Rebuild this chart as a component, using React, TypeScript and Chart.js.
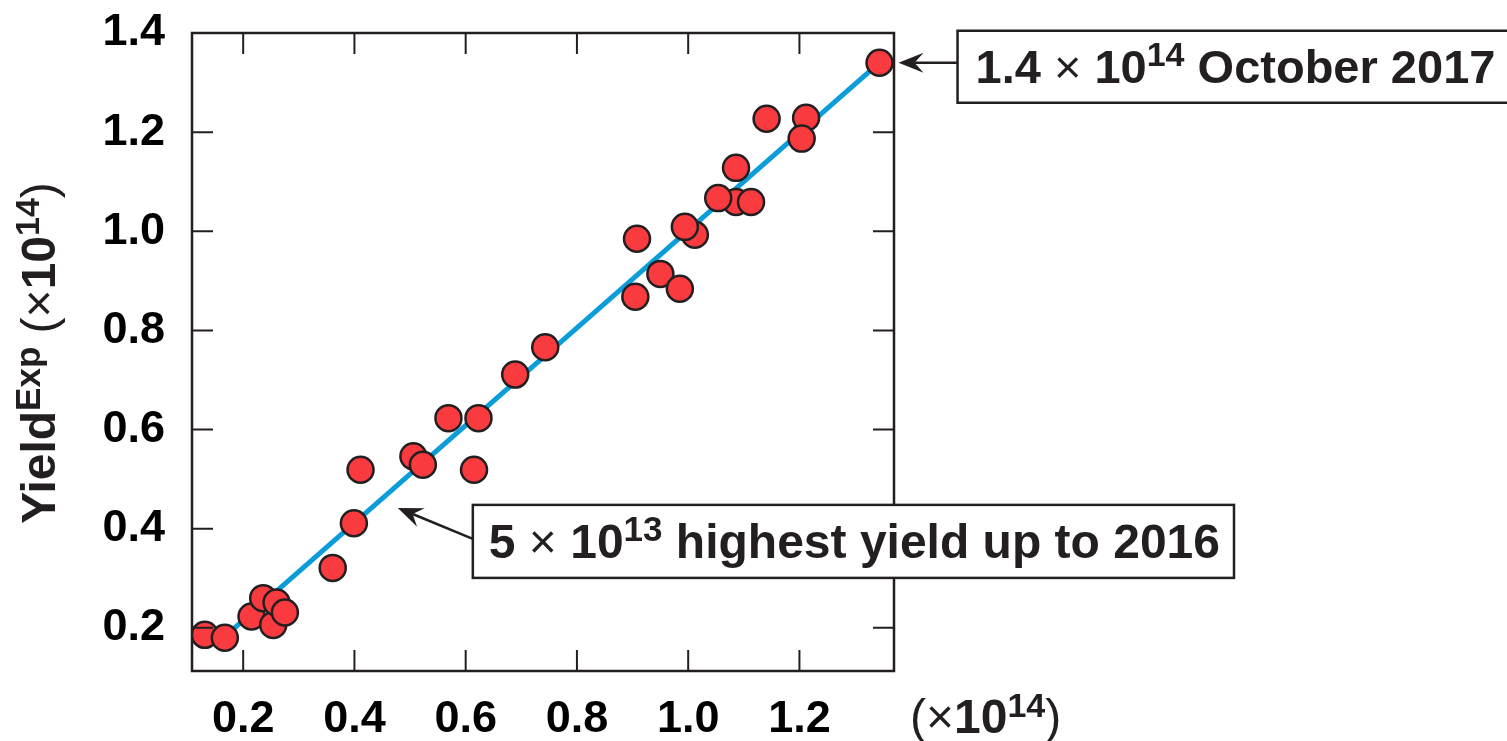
import { useEffect, useRef } from "react";
import { Chart, registerables } from "chart.js";

Chart.register(...registerables);

const FONT = '"Liberation Sans", Arial, Helvetica, sans-serif';
const INK = "#231f20";

// Yield (calculated, x10^14) on x, YieldExp (x10^14) on y — listed in drawing order
const yieldCalc = [
  0.131, 0.167, 0.215, 0.236, 0.254, 0.26, 0.275, 0.361, 0.399, 0.411, 0.506,
  0.523, 0.569, 0.615, 0.623, 0.689, 0.743, 0.905, 0.908, 0.95, 0.985, 1.012,
  0.994, 1.086, 1.054, 1.113, 1.086, 1.141, 1.212, 1.204, 1.344,
];
const yieldExp = [
  0.186, 0.18, 0.223, 0.26, 0.206, 0.251, 0.231, 0.321, 0.411, 0.519, 0.546,
  0.529, 0.623, 0.519, 0.623, 0.711, 0.766, 0.868, 0.985, 0.914, 0.884, 0.993,
  1.009, 1.059, 1.067, 1.059, 1.128, 1.227, 1.229, 1.187, 1.34,
];

// fitted line end points
const fitX = [0.16, 1.344];
const fitY = [0.176, 1.34];

const xTickValues = [0.2, 0.4, 0.6, 0.8, 1.0, 1.2];
const yTickValues = [0.2, 0.4, 0.6, 0.8, 1.0, 1.2, 1.4];
const xMin = 0.108;
const xMax = 1.37;
const yMin = 0.113;
const yMax = 1.4;

// annotations: anchor in data units
const noteTopAnchor = [1.344, 1.34];
const noteMidAnchor = [0.478, 0.442];

type Seg = { t: string; size: number; bold: boolean; rise?: number };

const noteTopText: Seg[] = [
  { t: "1.4 ", size: 47, bold: true },
  { t: "×", size: 47, bold: false },
  { t: " 10", size: 47, bold: true },
  { t: "14", size: 34, bold: true, rise: 17 },
  { t: " October 2017", size: 47, bold: true },
];
const noteMidText: Seg[] = [
  { t: "5 ", size: 48, bold: true },
  { t: "×", size: 48, bold: false },
  { t: " 10", size: 48, bold: true },
  { t: "13", size: 35, bold: true, rise: 17 },
  { t: " highest yield up to 2016", size: 48, bold: true },
];
const yTitle: Seg[] = [
  { t: "Yield", size: 48, bold: true },
  { t: "Exp", size: 35, bold: true, rise: 15 },
  { t: " (", size: 48, bold: false },
  { t: "×", size: 48, bold: false },
  { t: "10", size: 48, bold: true },
  { t: "14", size: 34, bold: true, rise: 16 },
  { t: ")", size: 48, bold: false },
];
const xTitle: Seg[] = [
  { t: "(", size: 48, bold: false },
  { t: "×", size: 48, bold: false },
  { t: "10", size: 48, bold: true },
  { t: "14", size: 34, bold: true, rise: 16 },
  { t: ")", size: 48, bold: false },
];

function setFont(ctx: CanvasRenderingContext2D, s: Seg) {
  ctx.font = `${s.bold ? "bold" : "normal"} ${s.size}px ${FONT}`;
}
function richWidth(ctx: CanvasRenderingContext2D, segs: Seg[]) {
  let w = 0;
  for (const s of segs) {
    setFont(ctx, s);
    w += ctx.measureText(s.t).width;
  }
  return w;
}
function drawRich(ctx: CanvasRenderingContext2D, segs: Seg[], x: number, y: number) {
  let cx = x;
  ctx.textAlign = "left";
  ctx.textBaseline = "alphabetic";
  for (const s of segs) {
    setFont(ctx, s);
    ctx.fillText(s.t, cx, y - (s.rise || 0));
    cx += ctx.measureText(s.t).width;
  }
  return cx - x;
}
function drawArrow(ctx: CanvasRenderingContext2D, x1: number, y1: number, x2: number, y2: number) {
  const ang = Math.atan2(y2 - y1, x2 - x1);
  ctx.beginPath();
  ctx.moveTo(x1, y1);
  ctx.lineTo(x2 - 16 * Math.cos(ang), y2 - 16 * Math.sin(ang));
  ctx.lineWidth = 2.5;
  ctx.stroke();
  ctx.save();
  ctx.translate(x2, y2);
  ctx.rotate(ang);
  ctx.beginPath();
  ctx.moveTo(0, 0);
  ctx.lineTo(-25, -10);
  ctx.lineTo(-16, 0);
  ctx.lineTo(-25, 10);
  ctx.closePath();
  ctx.fill();
  ctx.restore();
}

const framePlugin = {
  id: "frame",
  afterDatasetsDraw(chart: any) {
    const { ctx, chartArea: a, scales } = chart;
    ctx.save();
    ctx.strokeStyle = INK;
    ctx.lineWidth = 2.5;
    ctx.strokeRect(a.left, a.top, a.right - a.left, a.bottom - a.top);
    ctx.lineWidth = 2;
    const L = 21;
    ctx.beginPath();
    for (const v of xTickValues) {
      const px = scales.x.getPixelForValue(v);
      ctx.moveTo(px, a.bottom);
      ctx.lineTo(px, a.bottom - L);
      ctx.moveTo(px, a.top);
      ctx.lineTo(px, a.top + L);
    }
    for (const v of yTickValues) {
      const py = scales.y.getPixelForValue(v);
      ctx.moveTo(a.left, py);
      ctx.lineTo(a.left + L, py);
      ctx.moveTo(a.right, py);
      ctx.lineTo(a.right - L, py);
    }
    ctx.stroke();
    ctx.restore();
  },
  afterDraw(chart: any) {
    const { ctx, chartArea: a, scales } = chart;
    ctx.save();
    ctx.fillStyle = INK;
    ctx.strokeStyle = INK;

    // Y axis title (rotated)
    ctx.save();
    ctx.translate(38, 353);
    ctx.rotate(-Math.PI / 2);
    const wy = richWidth(ctx, yTitle);
    drawRich(ctx, yTitle, -wy / 2, 17);
    ctx.restore();

    // X axis unit
    drawRich(ctx, xTitle, a.right + 16, 733);

    // Top annotation
    {
      const tx = scales.x.getPixelForValue(noteTopAnchor[0]) + 19;
      const ty = scales.y.getPixelForValue(noteTopAnchor[1]);
      const bx = tx + 59;
      const by = ty - 32;
      const tw = richWidth(ctx, noteTopText);
      const bw = tw + 32;
      const bh = 72;
      ctx.fillStyle = "#ffffff";
      ctx.fillRect(bx, by, bw, bh);
      ctx.lineWidth = 2.5;
      ctx.strokeRect(bx, by, bw, bh);
      ctx.fillStyle = INK;
      drawRich(ctx, noteTopText, bx + 18, by + 52);
      drawArrow(ctx, bx, ty, tx, ty);
    }
    // Middle annotation
    {
      const tx = scales.x.getPixelForValue(noteMidAnchor[0]);
      const ty = scales.y.getPixelForValue(noteMidAnchor[1]);
      const bx = tx + 75;
      const by = ty - 3;
      const tw = richWidth(ctx, noteMidText);
      const bw = tw + 30;
      const bh = 73;
      ctx.fillStyle = "#ffffff";
      ctx.fillRect(bx, by, bw, bh);
      ctx.lineWidth = 2.5;
      ctx.strokeRect(bx, by, bw, bh);
      ctx.fillStyle = INK;
      drawRich(ctx, noteMidText, bx + 16, by + 53);
      drawArrow(ctx, bx, by + 34, tx, ty);
    }
    ctx.restore();
  },
};

export default function App() {
  const ref = useRef<HTMLCanvasElement | null>(null);
  useEffect(() => {
    if (!ref.current) return;
    const points = yieldCalc.map((x, i) => ({ x, y: yieldExp[i] }));
    const line = fitX.map((x, i) => ({ x, y: fitY[i] }));
    const tickFont = { family: FONT, size: 45, weight: "bold" as const };
    const chart = new Chart(ref.current, {
      type: "scatter",
      data: {
        datasets: [
          {
            data: points,
            pointRadius: 13,
            pointHoverRadius: 13,
            pointBackgroundColor: "#f93b40",
            pointBorderColor: INK,
            pointBorderWidth: 2.5,
            showLine: false,
            order: 0,
          },
          {
            type: "line",
            data: line,
            borderColor: "#0a9dd9",
            borderWidth: 5,
            pointRadius: 0,
            showLine: true,
            fill: false,
            order: 1,
          } as any,
        ],
      },
      options: {
        animation: false,
        responsive: false,
        events: [],
        layout: { padding: { top: 33, right: 613, left: 0, bottom: 0 } },
        plugins: { legend: { display: false }, tooltip: { enabled: false } },
        scales: {
          x: {
            type: "linear",
            min: xMin,
            max: xMax,
            afterBuildTicks: (s: any) => {
              s.ticks = xTickValues.map((v) => ({ value: v }));
            },
            afterFit: (s: any) => {
              s.height = 70;
              s.paddingLeft = 0;
              s.paddingRight = 0;
            },
            grid: { display: false, drawTicks: false },
            border: { display: false },
            ticks: {
              font: tickFont,
              color: "#000",
              padding: 22,
              maxRotation: 0,
              autoSkip: false,
              callback: (v: any) => Number(v).toFixed(1),
            },
          },
          y: {
            type: "linear",
            min: yMin,
            max: yMax,
            afterBuildTicks: (s: any) => {
              s.ticks = yTickValues.map((v) => ({ value: v }));
            },
            afterFit: (s: any) => {
              s.width = 192;
              s.paddingTop = 0;
              s.paddingBottom = 0;
            },
            grid: { display: false, drawTicks: false },
            border: { display: false },
            ticks: {
              font: tickFont,
              color: "#000",
              padding: 27,
              autoSkip: false,
              callback: (v: any) => Number(v).toFixed(1),
            },
          },
        },
      },
      plugins: [framePlugin],
    });
    return () => chart.destroy();
  }, []);
  return (
    <div style={{ position: "fixed", left: 0, top: 0, width: 1507, height: 741, background: "#fff" }}>
      <canvas ref={ref} width={1507} height={741} style={{ width: 1507, height: 741, display: "block" }} />
    </div>
  );
}
